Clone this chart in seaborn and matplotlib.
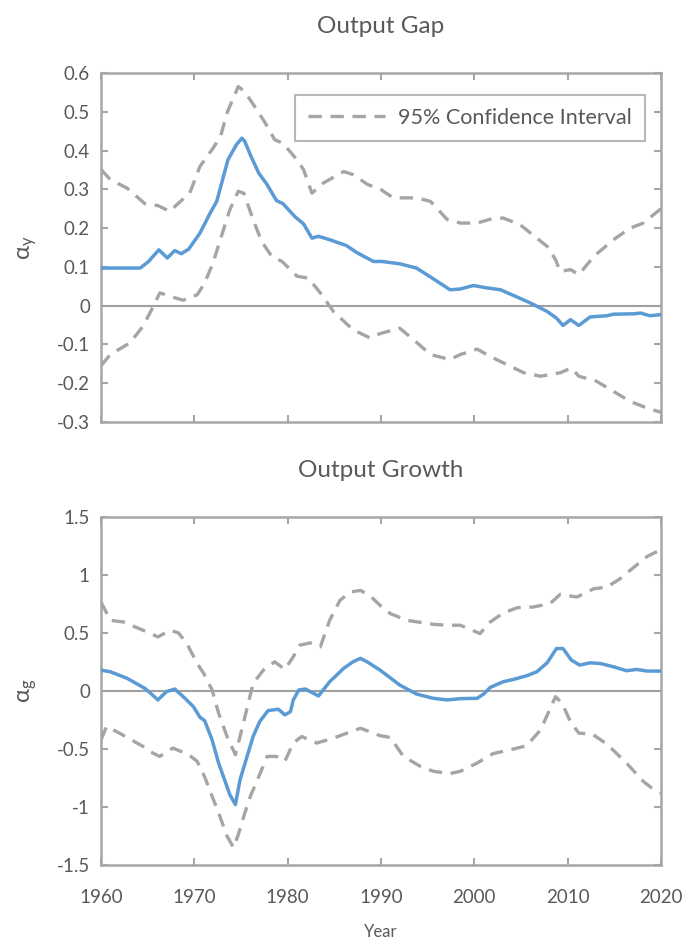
import matplotlib
matplotlib.use("Agg")
import matplotlib.pyplot as plt
import seaborn as sns
import pandas as pd
from matplotlib.lines import Line2D

# ---------------- data: Output Gap ----------------
gap_years = [1960.0, 1964.2, 1965.1, 1966.2, 1967.1, 1967.9, 1968.6, 1969.4, 1970.6, 1971.7, 1972.4,
             1973.6, 1974.5, 1975.1, 1975.4, 1976.0, 1976.9, 1977.8, 1978.8, 1979.5, 1980.8, 1981.7,
             1982.6, 1983.3, 1984.5, 1986.3, 1987.4, 1989.2, 1990.1, 1992.0, 1993.8, 1995.3, 1997.4,
             1998.5, 1999.9, 2001.3, 2002.8, 2004.6, 2006.0, 2007.8, 2008.8, 2009.5, 2010.3, 2011.2,
             2012.4, 2014.2, 2014.9, 2017.1, 2017.8, 2018.8, 2020.0]
gap_alpha = [0.097, 0.097, 0.114, 0.144, 0.123, 0.142, 0.134, 0.146, 0.187, 0.239, 0.269,
             0.376, 0.415, 0.432, 0.424, 0.389, 0.342, 0.312, 0.271, 0.263, 0.229, 0.211,
             0.174, 0.179, 0.170, 0.155, 0.137, 0.114, 0.114, 0.108, 0.097, 0.074, 0.041,
             0.043, 0.052, 0.046, 0.041, 0.022, 0.007, -0.015, -0.032, -0.051, -0.036, -0.051,
             -0.029, -0.026, -0.022, -0.021, -0.019, -0.026, -0.023]

gap_up_years = [1960.0, 1961.0, 1962.8, 1964.7, 1966.1, 1967.4, 1968.1, 1969.5, 1970.6, 1972.0, 1972.8,
                1973.5, 1974.7, 1975.4, 1976.7, 1977.6, 1978.6, 1979.5, 1981.0, 1981.7, 1982.6, 1983.8,
                1986.0, 1987.0, 1988.6, 1989.9, 1991.3, 1993.8, 1995.3, 1997.1, 1998.5, 2000.3, 2002.0,
                2003.1, 2004.9, 2006.7, 2007.8, 2008.7, 2009.2, 2010.3, 2011.2, 2012.8, 2014.9, 2016.7,
                2018.1, 2020.0]
gap_upper = [0.351, 0.325, 0.303, 0.263, 0.258, 0.243, 0.260, 0.290, 0.359, 0.406, 0.436,
             0.497, 0.565, 0.552, 0.505, 0.471, 0.428, 0.419, 0.376, 0.351, 0.290, 0.316,
             0.346, 0.338, 0.312, 0.301, 0.278, 0.278, 0.269, 0.222, 0.213, 0.213, 0.225,
             0.226, 0.209, 0.174, 0.153, 0.119, 0.088, 0.093, 0.080, 0.127, 0.170, 0.200,
             0.213, 0.250]

gap_lo_years = [1960.0, 1961.0, 1963.1, 1964.5, 1965.6, 1966.3, 1967.7, 1968.8, 1970.3, 1971.1, 1972.0,
                1972.9, 1973.8, 1974.7, 1975.3, 1976.3, 1977.2, 1978.3, 1979.4, 1981.0, 1982.2, 1983.5,
                1984.9, 1987.0, 1988.8, 1989.9, 1992.0, 1993.5, 1995.3, 1997.4, 1998.5, 2000.3, 2001.7,
                2003.5, 2005.3, 2007.1, 2009.2, 2010.4, 2011.2, 2013.1, 2014.9, 2016.7, 2018.5, 2020.0]
gap_lower = [-0.155, -0.126, -0.096, -0.053, -0.002, 0.033, 0.022, 0.014, 0.028, 0.058, 0.110,
             0.179, 0.247, 0.295, 0.290, 0.222, 0.166, 0.127, 0.114, 0.076, 0.071, 0.033,
             -0.015, -0.062, -0.083, -0.072, -0.058, -0.088, -0.126, -0.139, -0.126, -0.112, -0.131,
             -0.152, -0.173, -0.182, -0.173, -0.161, -0.182, -0.195, -0.221, -0.247, -0.264, -0.275]

# ---------------- data: Output Growth ----------------
gro_years = [1960.0, 1961.0, 1962.8, 1964.7, 1965.4, 1966.1, 1967.0, 1967.9, 1969.0, 1969.9, 1970.6,
             1971.1, 1971.9, 1972.6, 1973.3, 1973.8, 1974.4, 1974.9, 1975.6, 1976.3, 1977.0, 1977.9,
             1979.0, 1979.7, 1980.3, 1980.6, 1981.2, 1981.9, 1983.3, 1984.5, 1986.0, 1987.0, 1987.8,
             1988.5, 1989.9, 1992.0, 1993.8, 1995.6, 1997.1, 1998.5, 2000.3, 2001.0, 2001.7, 2003.1,
             2004.2, 2005.6, 2006.7, 2007.8, 2008.8, 2009.5, 2010.4, 2011.3, 2012.4, 2013.5, 2014.9,
             2016.3, 2017.4, 2018.5, 2020.0]
gro_alpha = [0.180, 0.166, 0.109, 0.023, -0.026, -0.077, -0.006, 0.017, -0.063, -0.135, -0.226,
             -0.255, -0.421, -0.621, -0.779, -0.893, -0.979, -0.764, -0.578, -0.392, -0.264, -0.169,
             -0.157, -0.206, -0.178, -0.077, 0.009, 0.017, -0.043, 0.080, 0.195, 0.252, 0.281,
             0.252, 0.180, 0.052, -0.026, -0.063, -0.077, -0.066, -0.063, -0.026, 0.031, 0.080,
             0.100, 0.131, 0.166, 0.243, 0.366, 0.366, 0.266, 0.223, 0.243, 0.237, 0.209,
             0.175, 0.186, 0.172, 0.172]

gro_up_years = [1960.0, 1961.0, 1962.4, 1964.5, 1966.1, 1967.4, 1968.3, 1969.2, 1970.3, 1971.0, 1971.9,
                1972.6, 1973.5, 1974.4, 1974.9, 1975.6, 1976.3, 1977.4, 1978.6, 1979.7, 1980.6, 1981.3,
                1982.4, 1983.5, 1984.5, 1985.6, 1986.7, 1987.8, 1988.8, 1989.9, 1991.0, 1992.8, 1995.6,
                1997.1, 1998.5, 1999.6, 2000.6, 2001.7, 2003.1, 2004.6, 2006.3, 2008.1, 2009.2, 2011.0,
                2012.8, 2014.2, 2015.6, 2017.1, 2018.5, 2020.0]
gro_upper = [0.767, 0.609, 0.595, 0.524, 0.466, 0.524, 0.501, 0.409, 0.238, 0.152, 0.009,
             -0.191, -0.392, -0.549, -0.392, -0.163, 0.066, 0.180, 0.252, 0.186, 0.295, 0.395,
             0.415, 0.381, 0.609, 0.781, 0.853, 0.867, 0.824, 0.738, 0.667, 0.609, 0.575,
             0.567, 0.567, 0.530, 0.495, 0.595, 0.672, 0.718, 0.724, 0.753, 0.833, 0.810,
             0.882, 0.895, 0.967, 1.067, 1.159, 1.220]

gro_lo_years = [1960.0, 1960.6, 1962.0, 1964.5, 1965.2, 1966.3, 1967.7, 1969.4, 1970.3, 1971.1, 1971.9,
                1972.6, 1973.5, 1974.2, 1974.7, 1975.3, 1976.0, 1976.7, 1977.8, 1978.8, 1979.7, 1980.6,
                1981.5, 1983.1, 1984.9, 1987.8, 1989.9, 1991.0, 1992.4, 1994.2, 1995.6, 1997.4, 1998.5,
                2000.3, 2002.0, 2004.2, 2005.6, 2007.1, 2007.9, 2008.7, 2009.4, 2010.3, 2011.2, 2012.6,
                2014.2, 2016.3, 2018.1, 2019.0, 2020.0]
gro_lower = [-0.421, -0.306, -0.364, -0.478, -0.521, -0.564, -0.492, -0.549, -0.606, -0.739, -0.907,
             -1.050, -1.250, -1.350, -1.240, -1.080, -0.907, -0.778, -0.564, -0.564, -0.606, -0.449,
             -0.392, -0.449, -0.406, -0.321, -0.385, -0.400, -0.564, -0.649, -0.692, -0.712, -0.692,
             -0.621, -0.540, -0.500, -0.472, -0.335, -0.191, -0.049, -0.106, -0.264, -0.364, -0.370,
             -0.457, -0.621, -0.779, -0.836, -0.880]

x_ticks = [1960, 1970, 1980, 1990, 2000, 2010, 2020]
gap_yticks = [0.6, 0.5, 0.4, 0.3, 0.2, 0.1, 0, -0.1, -0.2, -0.3]
gap_ylabels = ["0.6", "0.5", "0.4", "0.3", "0.2", "0.1", "0", "-0.1", "-0.2", "-0.3"]
gro_yticks = [1.5, 1, 0.5, 0, -0.5, -1, -1.5]
gro_ylabels = ["1.5", "1", "0.5", "0", "-0.5", "-1", "-1.5"]
legend_label = "95% Confidence Interval"

# ---------------- style ----------------
sns.set_theme(style="white")
plt.rcParams["font.family"] = ["Lato", "DejaVu Sans"]
plt.rcParams["mathtext.fontset"] = "custom"
plt.rcParams["mathtext.rm"] = "Lato"
plt.rcParams["mathtext.it"] = "Lato"
BLUE = "#5B9BD5"
GREY = "#A5A5A5"
AXC = "#A6A6A6"
TXT = "#595959"
DASH = (0, (4, 2.6))

fig = plt.figure(figsize=(6.89, 9.41), dpi=100)
ax1 = fig.add_axes([101/689, 1-422/941, 560/689, 349/941])
ax2 = fig.add_axes([101/689, 1-865/941, 560/689, 348/941])

def draw(ax, cy, cv, uy, uv, ly, lv):
    ax.axhline(0, color="#A0A0A0", lw=1.5, zorder=1)
    sns.lineplot(x=uy, y=uv, ax=ax, color=GREY, lw=2.4, zorder=2,
                 linestyle=DASH, estimator=None, sort=False)
    sns.lineplot(x=ly, y=lv, ax=ax, color=GREY, lw=2.4, zorder=2,
                 linestyle=DASH, estimator=None, sort=False)
    sns.lineplot(x=cy, y=cv, ax=ax, color=BLUE, lw=2.5, zorder=3,
                 estimator=None, sort=False)
    ax.set_xlim(1960, 2020)
    ax.set_xticks(x_ticks)
    for s in ax.spines.values():
        s.set_visible(True)
        s.set_color(AXC)
        s.set_linewidth(1.8)
    ax.tick_params(axis="both", which="both", direction="in", length=5, width=1.5,
                   color=AXC, top=True, right=True, bottom=True, left=True,
                   labelcolor=TXT, labelsize=13.5, pad=8)
    ax.tick_params(axis="x", pad=17)
    ax.set_xlabel("")

draw(ax1, gap_years, gap_alpha, gap_up_years, gap_upper, gap_lo_years, gap_lower)
ax1.set_ylim(-0.3, 0.6)
ax1.set_yticks(gap_yticks)
ax1.set_yticklabels(gap_ylabels)
ax1.tick_params(axis="x", labelbottom=False)
ax1.set_title("Output Gap", color=TXT, fontsize=17.5, pad=29)
ax1.set_ylabel(r"$\mathregular{\alpha_y}$", color=TXT, fontsize=17, labelpad=13)

draw(ax2, gro_years, gro_alpha, gro_up_years, gro_upper, gro_lo_years, gro_lower)
ax2.set_ylim(-1.5, 1.5)
ax2.set_yticks(gro_yticks)
ax2.set_yticklabels(gro_ylabels)
ax2.set_xticklabels([str(t) for t in x_ticks])
ax2.set_title("Output Growth", color=TXT, fontsize=17.5, pad=29)
ax2.set_ylabel(r"$\mathregular{\alpha_g}$", color=TXT, fontsize=17, labelpad=13)
ax2.set_xlabel("Year", color=TXT, fontsize=12, labelpad=13)

handle = Line2D([0], [0], color=GREY, lw=2.4, linestyle=DASH)
leg = ax1.legend([handle], [legend_label], loc="upper right",
                 bbox_to_anchor=(0.971, 0.937), frameon=True, fancybox=False,
                 fontsize=15.5, handlelength=3.6, borderpad=0.6, handletextpad=0.6,
                 labelcolor=TXT, borderaxespad=0)
leg.get_frame().set_edgecolor(AXC)
leg.get_frame().set_linewidth(1.5)

fig.savefig("out.png", dpi=100, facecolor="white")
